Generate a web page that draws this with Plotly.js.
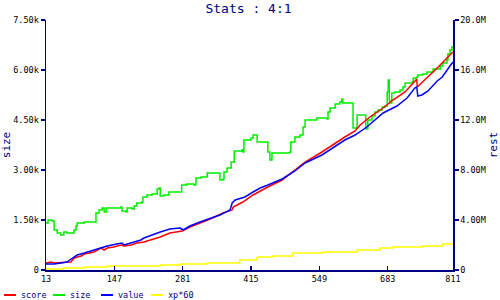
<!DOCTYPE html>
<html>
<head>
<meta charset="utf-8">
<script src="https://cdn.plot.ly/plotly-3.0.1.min.js"></script>
<style>html,body{margin:0;padding:0;background:#fff}#chart{width:500px;height:300px}</style>
</head>
<body>
<div id="chart"></div>
<script>
// size (left axis)
var sizeX = [13,15,17,25,29,35,42,48,54,62,68,72,74,88,107,111,117,123,127,131,160,162,170,172,182,186,191,201,203,211,221,225,231,235,237,244,254,278,279,289,303,307,317,329,352,354,360,362,368,376,382,397,399,401,415,419,423,427,446,448,452,456,472,491,493,501,511,517,521,544,564,566,570,580,589,593,595,613,615,623,638,640,644,652,658,664,672,678,682,684,686,687,691,697,707,713,717,731,733,740,742,752,760,772,786,791,799,801,805,809,811];
var sizeY = [1410,1410,1500,1470,1200,1110,1050,1140,1110,1110,1200,1320,1410,1440,1440,1710,1800,1860,1740,1860,1890,1770,1740,1860,1830,1920,2010,2040,2190,2250,2280,2280,2430,2460,2220,2250,2340,2340,2550,2580,2550,2760,2790,2910,2910,2700,2730,2940,3060,3240,3570,3600,3540,3900,3960,4050,4050,3840,3840,3540,3300,3510,3510,3540,3840,3990,4050,4290,4500,4560,4530,4740,4860,4980,5040,5130,5010,5010,4260,4650,4650,4230,4500,4620,4740,4800,4890,4920,5340,5700,5100,5010,5310,5340,5400,5490,5610,5640,5760,5790,5850,5880,5940,6030,6120,6210,6300,6480,6600,6690,6720];

// score (right axis)
var scoreX = [13,23,29,48,62,68,82,88,107,121,127,133,146,160,166,180,191,205,225,237,256,280,295,315,335,360,378,380,399,419,433,448,476,501,521,554,580,599,619,629,648,674,693,717,733,740,741,762,782,805,811];
var scoreY = [0.56,0.64,0.56,0.64,0.64,0.96,1.12,1.28,1.44,1.76,1.60,1.76,1.84,2.00,1.92,2.00,2.16,2.24,2.48,2.64,2.96,3.12,3.44,3.76,4.08,4.56,4.80,5.04,5.44,6.00,6.32,6.64,7.20,8.00,8.64,9.44,10.16,10.64,11.12,11.60,12.24,12.96,13.60,14.24,14.96,15.28,14.64,15.44,16.24,17.20,17.44];

// value (right axis)
var valueX = [13,29,42,54,68,74,88,107,127,133,152,162,166,180,199,205,225,237,256,276,282,295,315,335,354,374,378,384,403,419,433,448,476,501,521,554,574,599,619,642,674,701,721,736,740,742,750,762,780,790,805,811];
var valueY = [0.48,0.48,0.56,0.64,1.04,1.20,1.36,1.60,1.84,1.92,2.08,2.16,2.00,2.16,2.40,2.56,2.88,3.04,3.28,3.36,3.20,3.52,3.84,4.16,4.40,4.80,5.36,5.60,5.84,6.24,6.56,6.80,7.28,7.92,8.56,9.20,9.76,10.40,10.80,11.44,12.56,13.12,13.76,14.56,14.64,13.92,14.00,14.32,15.12,15.44,16.32,16.64];

// xp*60 (right axis)
var xpX = [13,23,48,89,133,197,237,276,329,393,427,458,497,556,623,668,693,752,791,811];
var xpY = [0.08,0.08,0.16,0.24,0.32,0.32,0.40,0.48,0.56,0.80,1.04,1.12,1.36,1.44,1.60,1.76,1.84,1.92,2.08,2.08];

var xTicks = [13,147,281,415,549,683,811];
var leftTickVals = [0,1500,3000,4500,6000,7500];
var leftTickText = ['0','1.50k','3.00k','4.50k','6.00k','7.50k'];
var rightTickVals = [0,4,8,12,16,20];
var rightTickText = ['0','4.00M','8.00M','12.0M','16.0M','20.0M'];

var seriesNames = ['score','size','value','xp*60'];
var seriesColors = ['#ff0000','#00ee00','#0000ff','#ffff00'];

var NAVY = '#000080';
var MONO = 'DejaVu Sans Mono, monospace';

var traces = [
  {x: scoreX, y: scoreY, yaxis: 'y2', name: seriesNames[0], mode: 'lines', line: {color: seriesColors[0], width: 1.5}},
  {x: sizeX, y: sizeY, yaxis: 'y', name: seriesNames[1], mode: 'lines', line: {color: seriesColors[1], width: 1.5, shape: 'hv'}},
  {x: valueX, y: valueY, yaxis: 'y2', name: seriesNames[2], mode: 'lines', line: {color: seriesColors[2], width: 1.5}},
  {x: xpX, y: xpY, yaxis: 'y2', name: seriesNames[3], mode: 'lines', line: {color: seriesColors[3], width: 1.5, shape: 'hv'}}
];
// order drawn: yellow, green, red, blue on top like reference
traces = [traces[3], traces[1], traces[0], traces[2]];

// manual legend (text + short line samples)
var legendX = [4, 53, 101, 151];
var shapes = [];
var annotations = [];
for (var i = 0; i < seriesNames.length; i++) {
  var x0 = (legendX[i] - 46) / 407, x1 = (legendX[i] + 12 - 46) / 407;
  shapes.push({type: 'line', xref: 'paper', yref: 'paper', x0: x0, x1: x1, y0: -0.1, y1: -0.1,
               line: {color: seriesColors[i], width: 2}});
  annotations.push({xref: 'paper', yref: 'paper', x: (legendX[i] + 15 - 46) / 407, y: -0.1,
                    xanchor: 'left', yanchor: 'middle', showarrow: false, text: seriesNames[i],
                    font: {family: MONO, size: 8.5, color: NAVY}});
}

var layout = {
  width: 500, height: 300,
  margin: {l: 46, r: 47, t: 20, b: 30, pad: 0},
  paper_bgcolor: '#ffffff', plot_bgcolor: '#ffffff',
  showlegend: false,
  title: {text: 'Stats : 4:1', x: 0.497, xanchor: 'center', y: 0.973, yanchor: 'middle',
          font: {family: MONO, size: 13, color: NAVY}},
  xaxis: {range: [13, 811], tickvals: xTicks, ticktext: xTicks.map(String), ticks: 'inside', ticklen: 4,
          tickcolor: NAVY, tickwidth: 1.5, showline: true, linecolor: NAVY, linewidth: 1.5,
          showgrid: false, zeroline: false, tickfont: {family: MONO, size: 8.5, color: '#000'}},
  yaxis: {range: [0, 7500], tickvals: leftTickVals, ticktext: leftTickText, ticks: 'outside', ticklen: 4,
          tickcolor: NAVY, tickwidth: 1.5, showline: true, linecolor: NAVY, linewidth: 1.5,
          showgrid: false, zeroline: false, tickfont: {family: MONO, size: 8.5, color: '#000'},
          title: {text: 'size', font: {family: MONO, size: 11, color: NAVY}, standoff: 4}},
  yaxis2: {range: [0, 20], overlaying: 'y', side: 'right', tickvals: rightTickVals, ticktext: rightTickText,
           ticks: 'outside', ticklen: 4, tickcolor: NAVY, tickwidth: 1.5, showline: true, linecolor: NAVY,
           linewidth: 1.5, showgrid: false, zeroline: false, tickfont: {family: MONO, size: 8.5, color: '#000'},
           title: {text: 'rest', font: {family: MONO, size: 11, color: NAVY}, standoff: 8}},
  shapes: shapes,
  annotations: annotations
};

Plotly.newPlot('chart', traces, layout, {staticPlot: true, displayModeBar: false});
</script>
</body>
</html>
